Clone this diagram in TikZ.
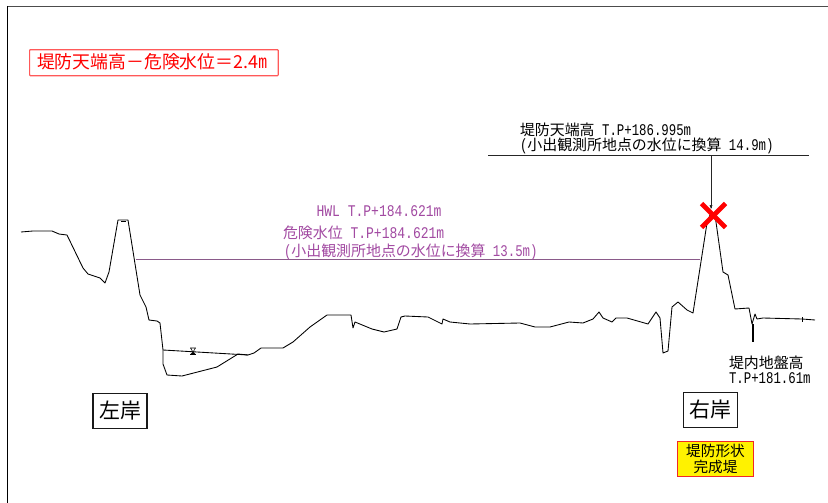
\documentclass[tikz,border=0pt]{standalone}
\usepackage{fontspec}
\newfontfamily\jp{Noto Sans CJK JP}
\newfontfamily\lat[FakeStretch=0.76,Scale=1.09]{Liberation Mono}
\newfontfamily\latw[FakeStretch=0.80,Scale=1.09]{Liberation Mono}
\definecolor{hwl}{HTML}{A24AA2}
\definecolor{hwlline}{HTML}{8A5A8A}
\newcommand{\fs}[1]{\fontsize{#1}{#1}\selectfont}
\tikzset{
 lbl/.style={anchor=base west,inner sep=0pt,outer sep=0pt,text=black,font=\jp\fs{11.2}},
 plbl/.style={lbl,text=hwl},
 bank/.style={draw=black!90,line width=0.9pt,fill=white,minimum width=40.5pt,minimum height=26pt,inner sep=0pt,font=\jp\fs{15.7}},
 ground/.style={draw=black,line width=0.65pt,line join=round},
}
\begin{document}
\begin{tikzpicture}[x=0.75pt,y=-0.75pt]
\useasboundingbox (0,0) rectangle (828,503);
\fill[white] (0,0) rectangle (828,503);
% frame
\draw[black!70,line width=0.7pt] (7,6) -- (828,6);
\draw[black,line width=0.7pt] (7,6) -- (7,503);
% ground profile
\draw[ground] (21,232) -- (33,231) -- (52,231) -- (59,234) -- (67,235) -- (83,268) -- (88,274) -- (100,278) -- (105,283) -- (109,272) -- (118,220) -- (128,220) -- (140,295) -- (146,307) -- (149,320) -- (157,321) -- (160,323) -- (163,350) -- (163,364) -- (167,375) -- (182,376) -- (217,367) -- (238,354) -- (248,355) -- (254,353) -- (261,348) -- (283,348) -- (293,342) -- (310,327) -- (327,315) -- (351,315) -- (353,328) -- (355,322) -- (372,329) -- (384,332) -- (397,329) -- (401,317) -- (405,316) -- (428,317) -- (442,324) -- (443,319) -- (450,322) -- (470,324) -- (520,323) -- (535,327) -- (550,327) -- (569,322) -- (583,323) -- (593,319) -- (599,312) -- (603,318) -- (612,322) -- (616,318) -- (627,318) -- (648,324) -- (656,312) -- (660,318) -- (663,353) -- (668,351) -- (672,307) -- (678,302) -- (687,310) -- (693,313) -- (707,223) -- (710,215) -- (715,215) -- (723,272) -- (728,275) -- (735,309) -- (749,308) -- (752,324) -- (755,314) -- (757,319) -- (763,318) -- (802,319) -- (815,320);
\draw[black,line width=1.3pt] (753,324) -- (753,342);
\draw[black,line width=0.6pt] (802,317) -- (802,322);
\draw[black,line width=0.6pt] (121,221.5) -- (126,221.5);
% water level
\draw[ground] (163,350) -- (248,355);
\draw[black,line width=0.4pt] (190.5,348) -- (195.5,348) -- (193,352) -- cycle;
\fill[black] (190,354) rectangle (196,355);
\fill[black] (193,351.5) -- (195.5,354) -- (190.5,354) -- cycle;
% HWL line
\coordinate (hwlL) at (136,259);
\coordinate (hwlR) at (700,259);
\draw[hwlline,line width=0.5pt] (hwlL) -- (hwlR);
% crest level
\coordinate (topL) at (488,155.5);
\coordinate (topR) at (809,155.5);
\coordinate (topC) at (711,155.5);
\coordinate (topP) at (711,208);
\draw[black!85,line width=0.55pt] (topL) -- (topR);
\draw[black!85,line width=0.55pt] (topC) -- (topP);
\fill[black!85] (709.5,205) -- (712.5,205) -- (711,209) -- cycle;
% red X
\draw[red,line width=3.5pt] (701.5,203.5) -- (725.5,227.5);
\draw[red,line width=3.5pt] (725.5,203.5) -- (701.5,227.5);
% labels
\node[anchor=base west,draw=red!65,line width=0.9pt,rounded corners=0.6pt,inner sep=0pt,minimum width=186.5pt,minimum height=19.5pt,text height=13.5pt,text depth=4pt] (diff) at (29,69) {};
\node[lbl,text=red,font=\jp\fs{13.4}] (difft) at (37,69) {堤防天端高－危険水位＝2.4{\lat m}};
\node[plbl] (hwlt) at (316.5,216) {{\latw HWL T.P+184.621m}};
\node[plbl] (dang) at (283,238) {危険水位{\latw\ T.P+184.621m}};
\node[plbl] (dang2) at (284,256) {{\lat(}小出観測所地点の水位に換算{\lat\ 13.5m)}};
\node[lbl] (crest) at (520,135) {堤防天端高{\lat\ T.P+186.995m}};
\node[lbl] (crest2) at (520,150) {{\lat(}小出観測所地点の水位に換算{\lat\ 14.9m)}};
\node[lbl] (inner) at (729,368) {堤内地盤高};
\node[lbl] (inner2) at (729,383) {{\lat T.P+181.61m}};
\node[bank] (left) at (120,411) {左岸};
\node[bank] (right) at (710.5,410) {右岸};
\node[draw={rgb,255:red,240;green,40;blue,40},fill=yellow,line width=0.8pt,minimum width=57pt,minimum height=26.5pt,inner sep=0pt,align=center,font=\jp\fs{11}] (shape) at (715.5,459) {堤防形状\\[1pt]完成堤};
\end{tikzpicture}
\end{document}
